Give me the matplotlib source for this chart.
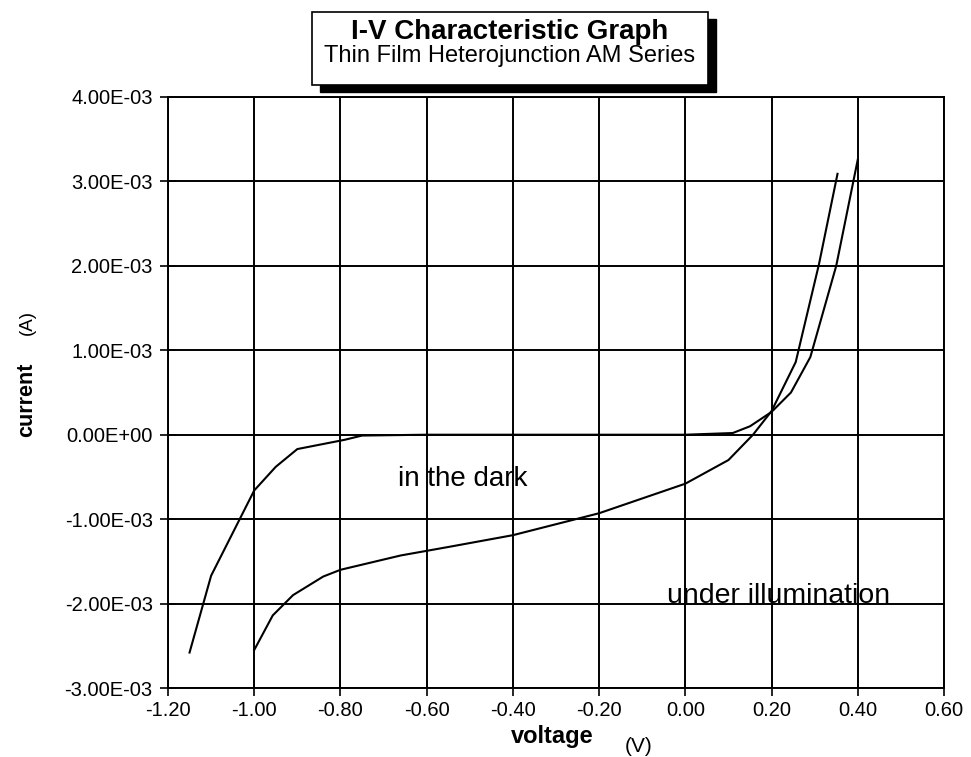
import matplotlib.pyplot as plt
from matplotlib.ticker import FuncFormatter

# data (voltage in V, current in A)
dark_v = [-1.15, -1.10, -1.00, -0.95, -0.90, -0.79, -0.75, -0.60, -0.40, -0.20,
          0.00, 0.11, 0.15, 0.20, 0.245, 0.29, 0.35, 0.40]
dark_i = [-2.58e-3, -1.67e-3, -0.66e-3, -0.38e-3, -0.17e-3, -0.06e-3, -0.01e-3, 0.0, 0.0, 0.0,
          0.0, 0.02e-3, 0.10e-3, 0.27e-3, 0.50e-3, 0.92e-3, 2.00e-3, 3.26e-3]

light_v = [-1.00, -0.957, -0.91, -0.84, -0.80, -0.66, -0.55, -0.40, -0.20,
           0.00, 0.10, 0.157, 0.20, 0.256, 0.31, 0.353]
light_i = [-2.55e-3, -2.14e-3, -1.90e-3, -1.68e-3, -1.60e-3, -1.43e-3, -1.33e-3, -1.19e-3, -0.93e-3,
           -0.58e-3, -0.30e-3, 0.0, 0.28e-3, 0.86e-3, 2.02e-3, 3.09e-3]

x_ticks = [-1.2, -1.0, -0.8, -0.6, -0.4, -0.2, 0.0, 0.2, 0.4, 0.6]
y_ticks = [-3e-3, -2e-3, -1e-3, 0.0, 1e-3, 2e-3, 3e-3, 4e-3]

plt.rcParams["font.family"] = ["Liberation Sans", "DejaVu Sans"]

fig = plt.figure(figsize=(9.71, 7.57), dpi=100)
ax = fig.add_axes([168 / 971, 1 - 688 / 757, (944 - 168) / 971, (688 - 97) / 757])

ax.plot(dark_v, dark_i, color="black", lw=1.5)
ax.plot(light_v, light_i, color="black", lw=1.5)

ax.set_xlim(-1.2, 0.6)
ax.set_ylim(-3e-3, 4e-3)
ax.set_xticks(x_ticks)
ax.set_yticks(y_ticks)
ax.xaxis.set_major_formatter(FuncFormatter(lambda v, p: "%.2f" % v))


def sci(v, p):
    s = "%.2E" % v
    if s.startswith("-0.00"):
        s = s[1:]
    return s


ax.yaxis.set_major_formatter(FuncFormatter(sci))
ax.grid(True, color="black", lw=1.4)
ax.set_axisbelow(True)
for sp in ax.spines.values():
    sp.set_linewidth(1.4)
ax.tick_params(direction="inout", length=12, width=1.2, labelsize=14.5, colors="black")
ax.tick_params(axis="y", pad=5)
ax.tick_params(axis="x", pad=3)

ax.text(-0.667, -0.604e-3, "in the dark", fontsize=20, va="baseline", ha="left")
ax.text(-0.043, -1.99e-3, "under illumination", fontsize=20.5, va="baseline", ha="left")

# axis labels
fig.text(552 / 971, 1 - 737 / 757, "voltage", fontsize=17, fontweight="bold", ha="center", va="center")
fig.text(639 / 971, 1 - 747 / 757, "(V)", fontsize=15, ha="center", va="center")
fig.text(27 / 971, 1 - 400 / 757, "current", fontsize=15.5, fontweight="bold", rotation=90,
         ha="center", va="center")
fig.text(27 / 971, 1 - 323 / 757, "(A)", fontsize=13.5, rotation=90, ha="center", va="center")

# title box with drop shadow
bx, by, bw, bh = 312 / 971, 1 - 85 / 757, (708 - 312) / 971, (85 - 12) / 757
sh = plt.Rectangle((bx + 8 / 971, by - 7 / 757), bw, bh, transform=fig.transFigure,
                   facecolor="black", edgecolor="black")
box = plt.Rectangle((bx, by), bw, bh, transform=fig.transFigure,
                    facecolor="white", edgecolor="black", lw=1.2)
fig.add_artist(sh)
fig.add_artist(box)
fig.text(bx + bw / 2, 1 - 39 / 757, "I-V Characteristic Graph", fontsize=20, fontweight="bold",
         ha="center", va="baseline")
fig.text(bx + bw / 2, 1 - 62 / 757, "Thin Film Heterojunction AM Series", fontsize=17,
         ha="center", va="baseline")

fig.savefig("out.png", dpi=100)
